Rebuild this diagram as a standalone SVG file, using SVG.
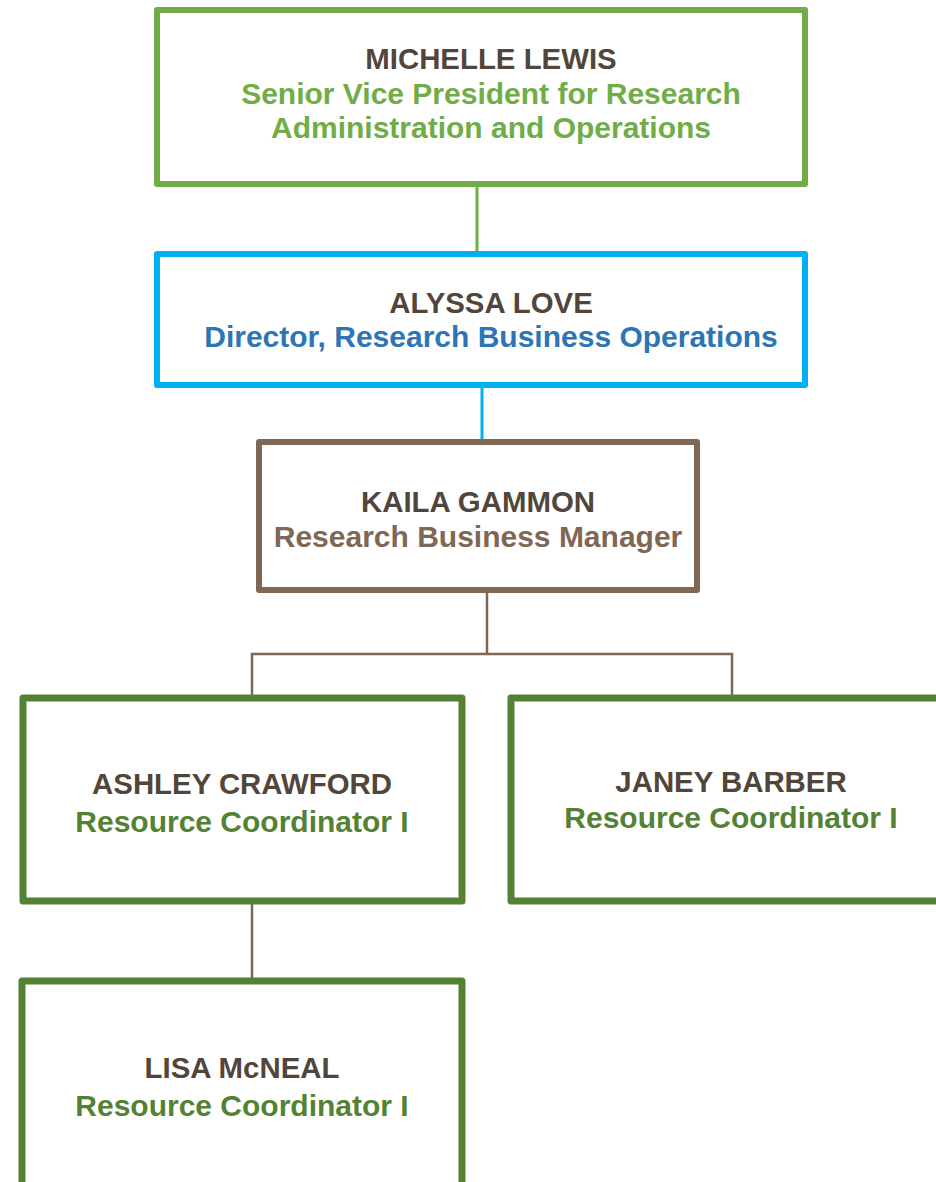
<svg xmlns="http://www.w3.org/2000/svg" width="936" height="1182" viewBox="0 0 936 1182">
<style>
.box{fill:#FFFFFF;stroke-linejoin:round}
.t{font-family:"Liberation Sans",Arial,sans-serif;font-weight:bold;text-anchor:middle;font-size:30px}
.nm{fill:#52453A;font-size:29.4px}
.g1{fill:#70AD47}
.bl{fill:#2E75B6}
.br{fill:#7F6756}
.g2{fill:#548235}
.c{fill:none}
</style>
<rect width="936" height="1182" fill="#FFFFFF"/>
<g id="connectors">
<line class="c" x1="477" y1="186" x2="477" y2="254" stroke="#70AD47" stroke-width="3"/>
<line class="c" x1="482" y1="386" x2="482" y2="442" stroke="#00B0F0" stroke-width="3"/>
<path class="c" d="M487 592 V654 M252 695 V654 H732 V695" stroke="#7F6756" stroke-width="2.5"/>
<line class="c" x1="252" y1="902" x2="252" y2="981" stroke="#7F6756" stroke-width="2.5"/>
</g>
<g id="michelle-lewis">
<rect class="box" x="157" y="10" width="648" height="174" stroke="#70AD47" stroke-width="6"/>
<text class="t nm" x="491" y="69">MICHELLE LEWIS</text>
<text class="t g1" x="491" y="104">Senior Vice President for Research</text>
<text class="t g1" x="491" y="138">Administration and Operations</text>
</g>
<g id="alyssa-love">
<rect class="box" x="157" y="254" width="648" height="131" stroke="#00B0F0" stroke-width="6"/>
<text class="t nm" x="491" y="313">ALYSSA LOVE</text>
<text class="t bl" x="491" y="347">Director, Research Business Operations</text>
</g>
<g id="kaila-gammon">
<rect class="box" x="259" y="442" width="438" height="148" stroke="#7F6756" stroke-width="6"/>
<text class="t nm" x="478" y="512">KAILA GAMMON</text>
<text class="t br" x="478" y="547">Research Business Manager</text>
</g>
<g id="ashley-crawford">
<rect class="box" x="23" y="698" width="439" height="203" stroke="#548235" stroke-width="7"/>
<text class="t nm" x="242" y="794">ASHLEY CRAWFORD</text>
<text class="t g2" x="242" y="832">Resource Coordinator I</text>
</g>
<g id="janey-barber">
<rect class="box" x="511" y="698" width="440" height="203" stroke="#548235" stroke-width="7"/>
<text class="t nm" x="731" y="792">JANEY BARBER</text>
<text class="t g2" x="731" y="828">Resource Coordinator I</text>
</g>
<g id="lisa-mcneal">
<rect class="box" x="22" y="981" width="440" height="230" stroke="#548235" stroke-width="7"/>
<text class="t nm" x="242" y="1078">LISA McNEAL</text>
<text class="t g2" x="242" y="1116">Resource Coordinator I</text>
</g>
</svg>
